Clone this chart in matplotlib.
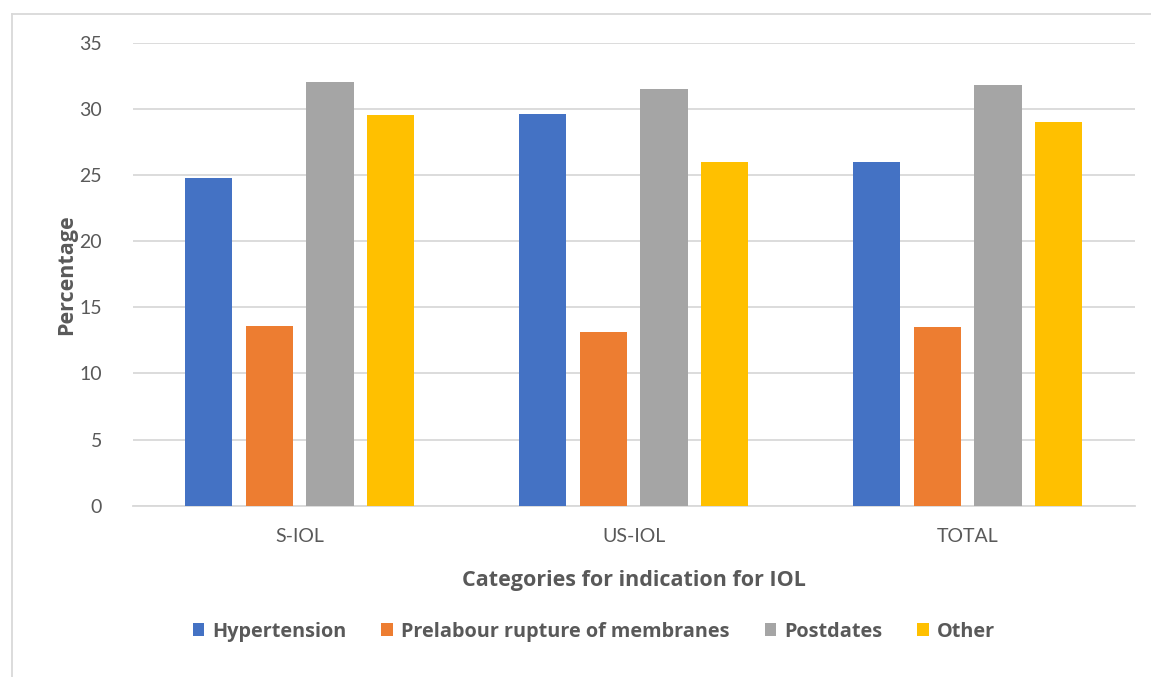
import matplotlib.pyplot as plt
import numpy as np
from matplotlib.lines import Line2D

categories = ['S-IOL', 'US-IOL', 'TOTAL']
series = ['Hypertension', 'Prelabour rupture of membranes', 'Postdates', 'Other']
hypertension = [24.8, 29.6, 26.0]
prelabour = [13.6, 13.1, 13.5]
postdates = [32.0, 31.5, 31.8]
other = [29.5, 26.0, 29.0]
colors = ['#4472C4', '#ED7D31', '#A5A5A5', '#FFC000']

plt.rcParams['font.family'] = ['Lato', 'DejaVu Sans']
text_col = '#595959'
bold_font = ['Open Sans', 'DejaVu Sans']

fig = plt.figure(figsize=(11.51, 6.77), dpi=100)
ax = fig.add_axes([0.1153, 0.2530, 0.8705, 0.6839])

x = np.arange(len(categories))
pitch = 0.1817
width = 0.142
for i, (vals, name) in enumerate(zip([hypertension, prelabour, postdates, other], series)):
    ax.bar(x + (i - 1.5) * pitch, vals, width, color=colors[i], label=name, zorder=3)

ax.set_xlim(-0.5, 2.5)
ax.set_ylim(0, 35)
ax.set_yticks(range(0, 36, 5))
ax.set_xticks(x)
ax.set_xticklabels(categories)
ax.yaxis.grid(True, color='#D9D9D9', linewidth=1.3, zorder=0)
ax.tick_params(axis='both', length=0, labelsize=14, colors=text_col)
ax.tick_params(axis='y', pad=22)
ax.tick_params(axis='x', pad=16)
for s in ['top', 'right', 'left']:
    ax.spines[s].set_visible(False)
ax.spines['bottom'].set_color('#D9D9D9')
ax.spines['bottom'].set_linewidth(1.3)

ax.set_ylabel('Percentage', fontsize=15.5, fontweight='bold', color=text_col,
              family=bold_font, labelpad=2)
ax.set_xlabel('Categories for indication for IOL', fontsize=15.5, fontweight='bold',
              color=text_col, family=bold_font, labelpad=18)

leg = fig.legend(loc='center', bbox_to_anchor=(0.516, 0.067), ncol=4, frameon=False,
                 handlelength=0.6, handleheight=0.6, handletextpad=0.4, columnspacing=1.75,
                 prop={'size': 14.3, 'weight': 'bold', 'family': bold_font})
for t in leg.get_texts():
    t.set_color(text_col)

# outer chart frame (left and top edges)
fig.add_artist(Line2D([12 / 1151, 12 / 1151], [0, 1 - 14 / 677], color='#D9D9D9', lw=1.3))
fig.add_artist(Line2D([12 / 1151, 1], [1 - 14 / 677, 1 - 14 / 677], color='#D9D9D9', lw=1.3))

fig.savefig('out.png', dpi=100, facecolor='white')
